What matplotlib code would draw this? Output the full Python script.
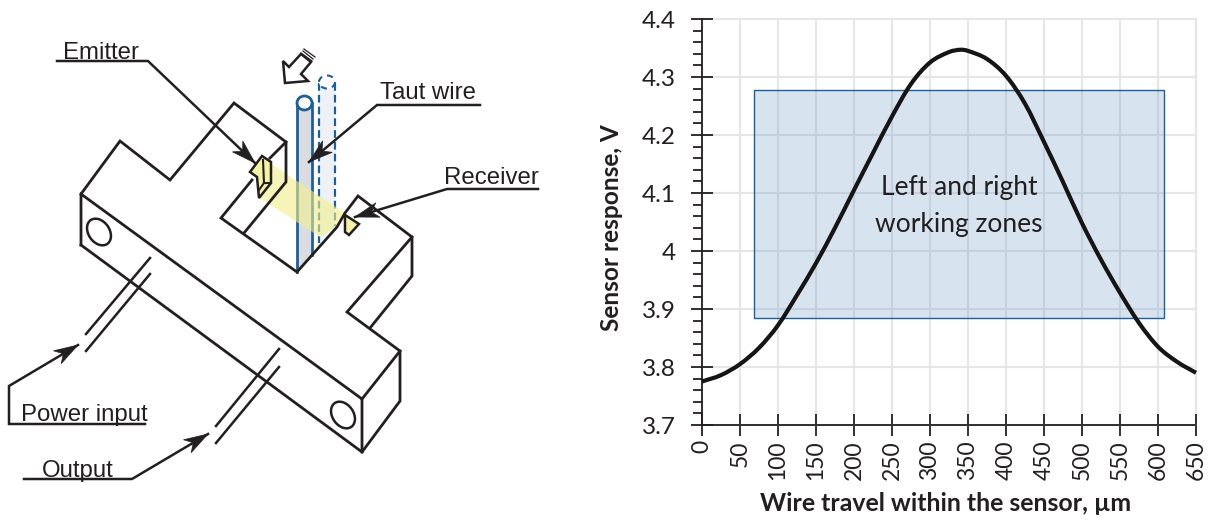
import matplotlib
matplotlib.use("Agg")
import matplotlib.pyplot as plt
from matplotlib.patches import Ellipse, PathPatch, Polygon, Rectangle
from matplotlib.path import Path
from matplotlib.ticker import MultipleLocator

WIDTH, HEIGHT = 1211, 520
INK = "#231f20"
BLUE = "#1f5f96"

# chart values
travel = [0, 25, 50, 75, 100, 125, 150, 175, 200, 225, 250, 275, 300, 325, 340, 350,
          375, 400, 425, 450, 475, 500, 525, 550, 575, 600, 625, 650]
response = [3.775, 3.786, 3.805, 3.833, 3.872, 3.924, 3.979, 4.04, 4.105, 4.169, 4.232,
            4.288, 4.325, 4.343, 4.347, 4.345, 4.331, 4.302, 4.254, 4.188, 4.119, 4.048,
            3.985, 3.928, 3.876, 3.835, 3.809, 3.79]
x_ticks = list(range(0, 651, 50))
y_ticks = [3.7, 3.8, 3.9, 4.0, 4.1, 4.2, 4.3, 4.4]
y_labels = ["3.7", "3.8", "3.9", "4", "4.1", "4.2", "4.3", "4.4"]
zone_x = [68, 608]
zone_y = [3.884, 4.277]

# schematic outlines, in picture pixels
body_lines = [
    [(81, 245), (81, 194), (120, 141), (170, 180), (234, 103), (286, 142), (286, 182), (244, 233)],
    [(286, 142), (270, 158)],
    [(252, 180), (221, 218), (297, 272), (337, 227), (345, 213), (358, 196), (412, 237), (412, 276), (370, 328)],
    [(412, 237), (347, 312), (400, 351), (400, 401), (362, 452), (81, 245)],
    [(81, 194), (362, 399), (362, 452)],
    [(362, 399), (400, 351)],
]
wire_pairs = [
    [(150, 258), (86, 334)], [(150, 274), (86, 351)],
    [(279, 349), (216, 426)], [(279, 367), (216, 443)],
]
holes = [(99, 232), (343, 415)]
beam = [(270, 163), (345, 213), (337, 227), (320, 237), (258, 197)]
emitter = [(250, 172), (262, 156), (271, 162), (271, 183), (259, 198), (257, 177)]
emitter_inner = [(263, 160), (264, 183), (259, 190)]
emitter_edge = [(264, 183), (271, 183)]
receiver = [(345, 215), (359, 224), (349, 235), (345, 232)]
motion_arrow = [(283, 61), (285, 83), (308, 81), (301, 74), (311, 62), (301, 54), (289, 67)]
motion_hatch = [[(301, 53), (312, 61)], [(303, 51), (313, 59)], [(304, 49), (315, 57)]]
leaders = [
    [(57, 61), (148, 61), (255, 163)],
    [(480, 105), (377, 105), (309, 162)],
    [(538, 189), (447, 189), (355, 217)],
    [(145, 424), (9, 424), (9, 386), (78, 345)],
    [(24, 479), (132, 479), (208, 434)],
]
callouts = [("Emitter", 63, 53), ("Taut wire", 380, 93), ("Receiver", 444, 178),
            ("Power input", 21, 415), ("Output", 42, 471)]


def drawHead(ax, start, tip):
    dx, dy = tip[0] - start[0], tip[1] - start[1]
    size = (dx * dx + dy * dy) ** 0.5
    ux, uy = dx / size, dy / size
    head = [tip,
            (tip[0] - 24 * ux - 7.5 * uy, tip[1] - 24 * uy + 7.5 * ux),
            (tip[0] - 17 * ux, tip[1] - 17 * uy),
            (tip[0] - 24 * ux + 7.5 * uy, tip[1] - 24 * uy - 7.5 * ux)]
    ax.add_patch(Polygon(head, closed=True, fc=INK, ec=INK, lw=0.5, zorder=6))


def drawSchematic(ax):
    # taut wire and its shifted position
    ax.add_patch(Polygon([(319, 82), (335, 82), (335, 226), (319, 243)], fc="#eef2f6", ec="none", zorder=1))
    ax.add_patch(Polygon([(297, 103), (312, 103), (312, 255), (297, 272)], fc="#d9dde1", ec="none", zorder=1))
    ax.plot([319, 319], [83, 243], color=BLUE, lw=1.6, ls=(0, (3.5, 1.8)), zorder=2)
    ax.plot([335, 335], [83, 226], color=BLUE, lw=1.6, ls=(0, (3.5, 1.8)), zorder=2)
    ax.add_patch(Ellipse((327, 82), 16, 13, fc="white", ec=BLUE, lw=1.5, ls=(0, (3, 2.5)), zorder=2))
    ax.plot([297, 297], [103, 272], color=BLUE, lw=2, zorder=2)
    ax.plot([312, 312], [103, 255], color=BLUE, lw=2, zorder=2)
    ax.add_patch(Ellipse((304.5, 103), 15, 14, fc="white", ec=BLUE, lw=2, zorder=3))
    ax.add_patch(Polygon(beam, fc="#f2ee8c", ec="none", alpha=0.6, zorder=3))

    for line in body_lines:
        ax.plot(*zip(*line), color=INK, lw=2, solid_joinstyle="miter", zorder=4)
    for line in wire_pairs:
        ax.plot(*zip(*line), color=INK, lw=1.8, zorder=4)
    for center in holes:
        ax.add_patch(Ellipse(center, 21, 29, angle=-35, fc="white", ec=INK, lw=1.8, zorder=4))

    ax.add_patch(Polygon(emitter, fc="#f6f2a6", ec=INK, lw=1.8, zorder=5))
    ax.plot(*zip(*emitter_inner), color=INK, lw=1.5, zorder=5)
    ax.plot(*zip(*emitter_edge), color=INK, lw=1.5, zorder=5)
    ax.add_patch(Polygon(receiver, fc="#f6f2a6", ec=INK, lw=1.8, zorder=5))

    ax.add_patch(Polygon(motion_arrow, fc="white", ec=INK, lw=1.8, zorder=5))
    for line in motion_hatch:
        ax.plot(*zip(*line), color=INK, lw=0.9, zorder=5)

    for line in leaders:
        ax.plot(*zip(*line), color=INK, lw=1.8, solid_joinstyle="miter", zorder=6)
        drawHead(ax, line[-2], line[-1])
    for label, x, y in callouts:
        ax.text(x, y, label, family="Liberation Sans", fontsize=17.3, color=INK,
                ha="left", va="center", zorder=7)


def smoothPath(xs, ys):
    # bezier segments through the read points, so the curve has no corners
    last = len(xs) - 1
    slopes = []
    for i in range(last + 1):
        a, b = max(i - 1, 0), min(i + 1, last)
        slopes.append((ys[b] - ys[a]) / (xs[b] - xs[a]))
    verts = [(xs[0], ys[0])]
    codes = [Path.MOVETO]
    for i in range(last):
        h = (xs[i + 1] - xs[i]) / 3
        verts += [(xs[i] + h, ys[i] + slopes[i] * h),
                  (xs[i + 1] - h, ys[i + 1] - slopes[i + 1] * h),
                  (xs[i + 1], ys[i + 1])]
        codes += [Path.CURVE4] * 3
    return Path(verts, codes)


def drawChart(ax):
    ax.set_xlim(0, 650)
    ax.set_ylim(3.7, 4.4)
    ax.grid(True, which="major", color="#e6e6e6", lw=1.5, zorder=0)
    for gridline in ax.get_xgridlines() + ax.get_ygridlines():
        gridline.set_clip_on(False)
    ax.set_axisbelow(True)
    ax.add_patch(Rectangle((zone_x[0], zone_y[0]), zone_x[1] - zone_x[0], zone_y[1] - zone_y[0],
                           fc=(0.31, 0.51, 0.74, 0.22), ec=BLUE, lw=1, zorder=2))
    ax.add_patch(PathPatch(smoothPath(travel, response), fc="none", ec="#161415", lw=3,
                           capstyle="butt", zorder=3, clip_on=False))
    ax.text(338, 4.078, "Left and right\nworking zones", family="Lato", fontsize=19,
            color=INK, ha="center", va="center", linespacing=1.6, zorder=4)

    ax.set_xticks(x_ticks)
    ax.set_yticks(y_ticks, y_labels)
    ax.yaxis.set_minor_locator(MultipleLocator(0.02))
    ax.tick_params(axis="x", which="major", direction="inout", length=16, width=1.3, color=INK,
                   labelrotation=90, labelsize=16.5, labelcolor=INK, pad=3)
    ax.tick_params(axis="y", which="major", direction="inout", length=16, width=1.3, color=INK,
                   labelsize=17.5, labelcolor=INK, pad=11)
    ax.tick_params(axis="y", which="minor", direction="out", length=6.5, width=1.3, color=INK)
    for side in ("top", "right"):
        ax.spines[side].set_visible(False)
    for side in ("left", "bottom"):
        ax.spines[side].set_color(INK)
        ax.spines[side].set_linewidth(1.3)
    ax.set_xlabel("Wire travel within the sensor, µm", fontsize=17.9, fontweight="bold", color=INK)
    ax.set_ylabel("Sensor response, V", fontsize=17.6, fontweight="bold", color=INK)
    ax.xaxis.set_label_coords(0.493, -0.165)
    ax.yaxis.set_label_coords(-0.16, 0.485)


plt.rcParams["font.family"] = ["Lato", "DejaVu Sans"]
fig = plt.figure(figsize=(WIDTH / 100, HEIGHT / 100), dpi=100)

chart = fig.add_axes([702 / WIDTH, 1 - 425 / HEIGHT, 494 / WIDTH, 406 / HEIGHT])
drawChart(chart)

sketch = fig.add_axes([0, 0, 1, 1])
sketch.set_xlim(0, WIDTH)
sketch.set_ylim(HEIGHT, 0)
sketch.axis("off")
sketch.patch.set_alpha(0)
drawSchematic(sketch)

fig.savefig("out.png", dpi=100)
